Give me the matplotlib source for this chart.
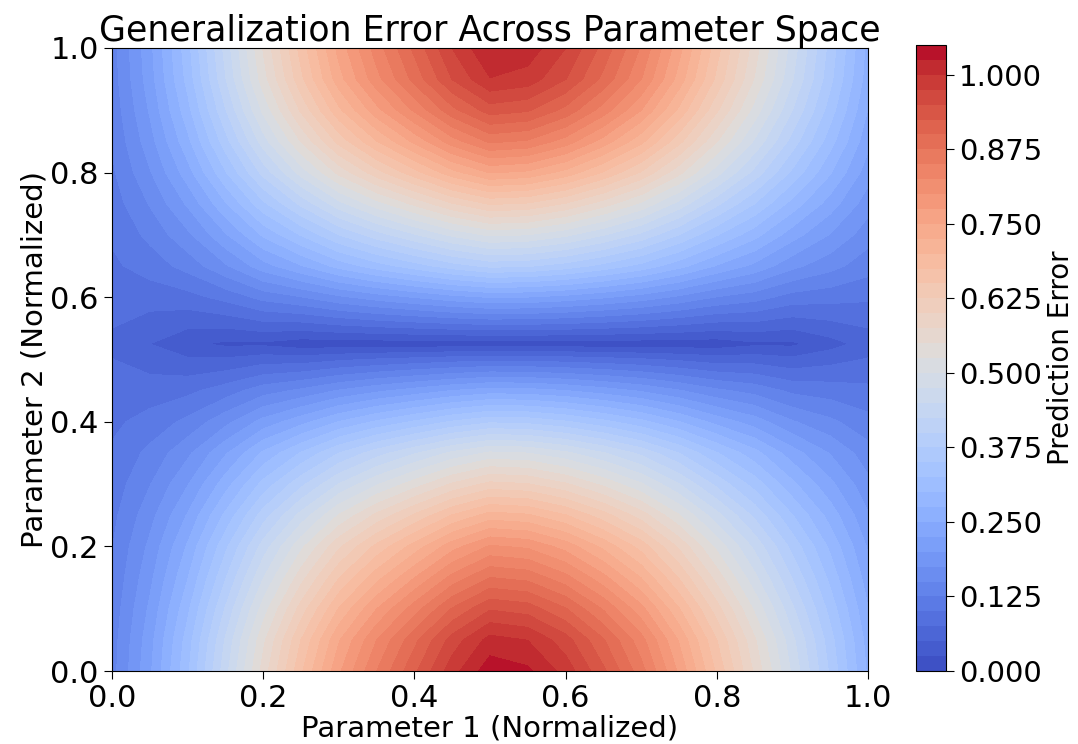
import matplotlib
matplotlib.use("Agg")
import matplotlib.pyplot as plt
import numpy as np

# Grid positions along each parameter
param1 = [0.0, 0.05, 0.1, 0.15, 0.2, 0.25, 0.3, 0.35, 0.4, 0.45, 0.5,
          0.55, 0.6, 0.65, 0.7, 0.75, 0.8, 0.85, 0.9, 0.95, 1.0]
param2 = [0.0, 0.05, 0.1, 0.15, 0.2, 0.25, 0.3, 0.35, 0.4, 0.45, 0.5,
          0.525, 0.55, 0.6, 0.65, 0.7, 0.75, 0.8, 0.85, 0.9, 0.95, 1.0]

# Error along parameter 1 at the edges of parameter 2 (y = 0 / y = 1)
error_edge = [0.14, 0.22, 0.32, 0.44, 0.56, 0.67, 0.77, 0.85, 0.92, 0.99, 1.04,
              1.03, 0.99, 0.93, 0.86, 0.77, 0.67, 0.57, 0.47, 0.37, 0.27]
# Error along parameter 1 in the low-error band (y ~ 0.52)
error_band = [0.07, 0.05, 0.03, 0.02, 0.02, 0.01, 0.01, 0.01, 0.01, 0.01, 0.01,
              0.01, 0.01, 0.01, 0.01, 0.01, 0.01, 0.02, 0.02, 0.04, 0.06]
# Relative weight of the edge error along parameter 2
weight_p2 = [1.0, 0.97, 0.91, 0.84, 0.77, 0.68, 0.58, 0.48, 0.35, 0.22, 0.08,
             0.0, 0.07, 0.21, 0.36, 0.48, 0.6, 0.72, 0.82, 0.9, 0.96, 0.985]

X, Y = np.meshgrid(param1, param2)
edge = np.array(error_edge)
band = np.array(error_band)
Z = band + np.outer(weight_p2, edge - band)

fig = plt.figure(figsize=(10.78, 7.44), dpi=100)
ax = fig.add_axes([0.1039, 0.0981, 0.7013, 0.8374])
cax = fig.add_axes([0.8497, 0.0981, 0.0278, 0.8414])

levels = np.linspace(0, 1.05, 43)
cf = ax.contourf(X, Y, Z, levels=levels, cmap='coolwarm')
cbar = fig.colorbar(cf, cax=cax)
cbar.ax.tick_params(labelsize=21, length=6)
cbar.set_label('Prediction Error', fontsize=20, labelpad=3)

ax.set_title('Generalization Error Across Parameter Space', fontsize=25, pad=4)
ax.set_xlabel('Parameter 1 (Normalized)', fontsize=21, labelpad=1)
ax.set_ylabel('Parameter 2 (Normalized)', fontsize=21, labelpad=1)
ax.tick_params(labelsize=22, length=6)
ax.set_xticks(np.arange(0, 1.01, 0.2))
ax.set_yticks(np.arange(0, 1.01, 0.2))

fig.savefig('out.png', dpi=100)
